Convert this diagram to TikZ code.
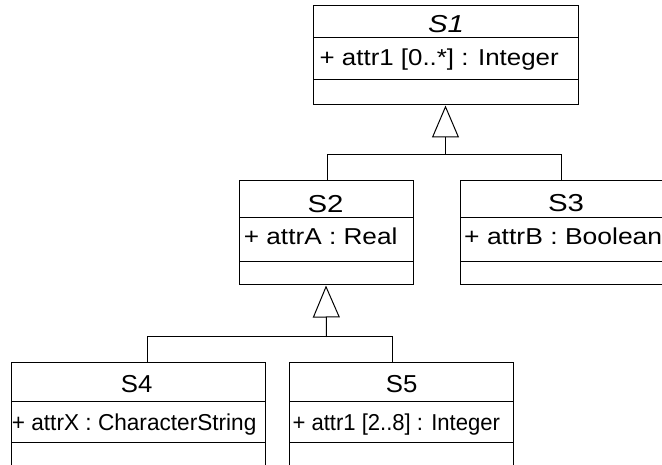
\documentclass[tikz,border=0pt]{standalone}
\usepackage{fontspec}
\usepackage{graphicx}
\setmainfont{Liberation Sans}
\usetikzlibrary{arrows.meta}
\newcommand\fitw[2]{\resizebox{#1}{\height}{#2}}
\tikzset{
  cls/.style={draw=black, line width=1pt, inner sep=0pt, fill=none},
  sepline/.style={draw=black, line width=1pt},
  nametxt/.style={inner sep=0pt, anchor=base, font=\fontsize{24.5}{28}\selectfont},
  attrtxt/.style={inner sep=0pt, anchor=base west, font=\fontsize{23}{27}\selectfont},
  conn/.style={draw=black, line width=1pt},
  gen/.style={conn, -{Triangle[open, length=32pt, width=27pt, line width=1pt]}}
}
\begin{document}
\begin{tikzpicture}[x=1pt, y=-1pt]
\useasboundingbox (0,0) rectangle (662,465);
% S1
\node[cls, minimum width=265pt, minimum height=99pt] (s1) at (445.5,55.5) {};
\draw[sepline] (313,38) -- (578,38);
\draw[sepline] (313,80) -- (578,80);
\node[nametxt] (s1n) at (446,32.3) {\fitw{36pt}{\itshape S1}};
\node[attrtxt] (s1a) at (319.5,66) {\fitw{239pt}{+ attr1 [0..*] : Integer}};
% S2
\node[cls, minimum width=174pt, minimum height=104pt] (s2) at (326,233) {};
\draw[sepline] (239,218) -- (413,218);
\draw[sepline] (239,262) -- (413,262);
\node[nametxt] (s2n) at (325.5,212.3) {\fitw{36pt}{S2}};
\node[attrtxt] (s2a) at (243.7,245) {\fitw{153.5pt}{+ attrA : Real}};
% S3
\node[cls, minimum width=220pt, minimum height=104pt] (s3) at (570,233) {};
\draw[sepline] (460,218) -- (680,218);
\draw[sepline] (460,262) -- (680,262);
\node[nametxt] (s3n) at (566,211.7) {\fitw{36pt}{S3}};
\node[attrtxt] (s3a) at (464,245) {\fitw{198pt}{+ attrB : Boolean}};
% S4
\node[cls, minimum width=254pt, minimum height=117pt] (s4) at (138,421.5) {};
\draw[sepline] (11,401) -- (265,401);
\draw[sepline] (11,442) -- (265,442);
\node[nametxt] (s4n) at (136.7,392) {\fitw{31.5pt}{S4}};
\node[attrtxt] (s4a) at (11.7,430.5) {\fitw{244.5pt}{+ attrX : CharacterString}};
% S5
\node[cls, minimum width=224pt, minimum height=117pt] (s5) at (401,421.5) {};
\draw[sepline] (289,401) -- (513,401);
\draw[sepline] (289,442) -- (513,442);
\node[nametxt] (s5n) at (401.7,392) {\fitw{31.5pt}{S5}};
\node[attrtxt] (s5a) at (292.3,430.5) {\fitw{207.5pt}{+ attr1 [2..8] : Integer}};
% generalization S2, S3 -> S1
\coordinate (j1) at (445.5,155);
\draw[conn] ([xshift=1pt]s2.north) |- (j1);
\draw[conn] ([xshift=-9pt]s3.north) |- (j1);
\draw[gen] (j1) -- (s1.south);
% generalization S4, S5 -> S2
\coordinate (j2) at (326.5,337);
\draw[conn] ([xshift=9pt]s4.north) |- (j2);
\draw[conn] ([xshift=-9pt]s5.north) |- (j2);
\draw[gen] (j2) -- (s2.south);
\end{tikzpicture}
\end{document}
